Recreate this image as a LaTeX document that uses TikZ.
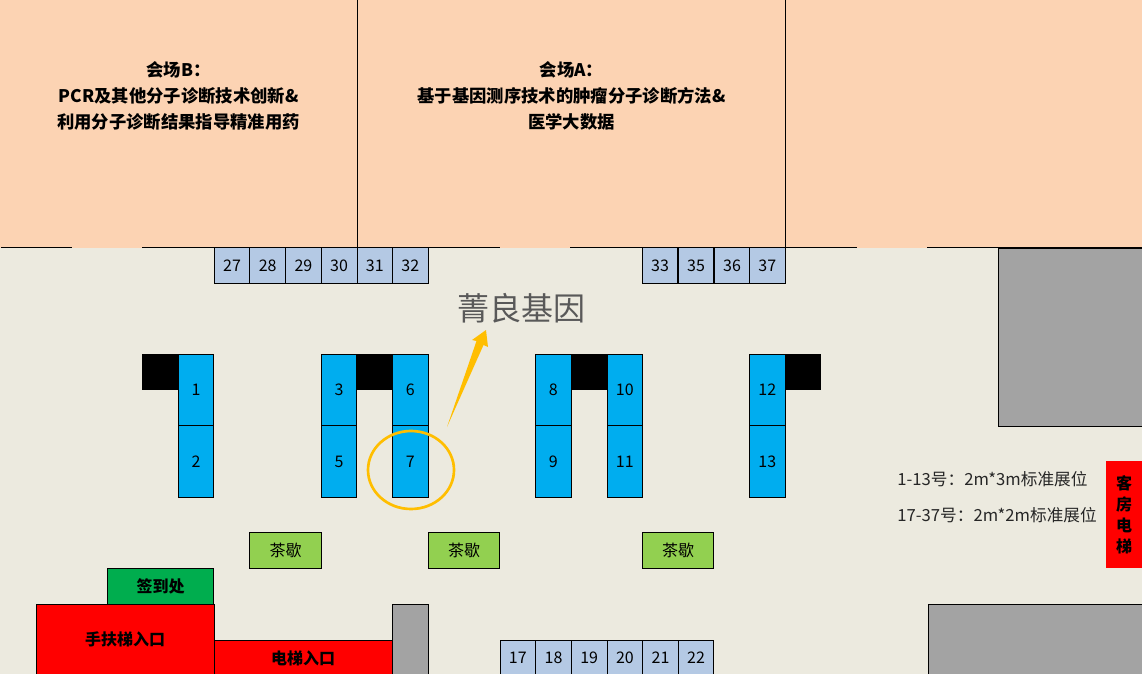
\documentclass[tikz,border=0pt]{standalone}
\usepackage{fontspec}
\setmainfont{Noto Sans CJK SC}
\usepackage{xcolor}
\usetikzlibrary{arrows.meta,positioning,calc}
\definecolor{floorbg}{HTML}{ECEADF}
\definecolor{roompeach}{HTML}{FCD3B3}
\definecolor{smallblue}{HTML}{B4C9E4}
\definecolor{bigblue}{HTML}{00ADEF}
\definecolor{teagreen}{HTML}{92D050}
\definecolor{signgreen}{HTML}{00AD4E}
\definecolor{wallgray}{HTML}{A3A3A3}
\definecolor{ringorange}{HTML}{FFBE00}
\tikzset{
  smallbooth/.style={draw=black, fill=smallblue, minimum width=26.8pt, minimum height=26.6pt, inner sep=0pt, font=\fontsize{12}{14}\selectfont},
  bigbooth/.style={draw=black, fill=bigblue, minimum width=26.8pt, minimum height=53.6pt, inner sep=0pt, font=\fontsize{12}{14}\selectfont},
  pillar/.style={fill=black, minimum width=27pt, minimum height=27pt, inner sep=0pt},
  teabox/.style={draw=black, fill=teagreen, minimum width=53.4pt, minimum height=26.6pt, inner sep=0pt, font=\fontsize{12}{14}\selectfont},
  wall/.style={draw=black, fill=wallgray, inner sep=0pt},
  entry/.style={draw=black, fill=red, inner sep=0pt, font=\fontsize{12}{14}\selectfont\bfseries},
  roomlabel/.style={align=center, font=\fontsize{13}{19.5}\selectfont\bfseries},
  notelabel/.style={inner sep=0pt, font=\fontsize{12.5}{14}\selectfont, text=black!85}
}
\begin{document}
\begin{tikzpicture}[x=0.75pt, y=-0.75pt, line width=0.65pt]
  \useasboundingbox (0,0) rectangle (1142,674);
  \clip (0,0) rectangle (1142,674);
  \fill[floorbg] (0,0) rectangle (1142,674);
  % Rooms
  \fill[roompeach] (0,0) rectangle (1142,247.5);
  \draw (357,0) -- (357,247.5);
  \draw (785,0) -- (785,247.5);
  \draw (1,247.5) -- (72,247.5);
  \draw (142,247.5) -- (500,247.5);
  \draw (570,247.5) -- (857,247.5);
  \draw (927,247.5) -- (1142,247.5);
  \node[roomlabel] (roomB) at (178.5,95.5) {会场B：\\PCR及其他分子诊断技术创新\&\\利用分子诊断结果指导精准用药};
  \node[roomlabel] (roomA) at (571.5,95.5) {会场A：\\基于基因测序技术的肿瘤分子诊断方法\&\\医学大数据};
  % Top row booths
  \node[smallbooth] (b27) at (232,265.5) {27};
  \node[smallbooth] (b28) at (267.7,265.5) {28};
  \node[smallbooth] (b29) at (303.4,265.5) {29};
  \node[smallbooth] (b30) at (339.1,265.5) {30};
  \node[smallbooth] (b31) at (374.8,265.5) {31};
  \node[smallbooth] (b32) at (410.3,265.5) {32};
  \node[smallbooth] (b33) at (660,265.5) {33};
  \node[smallbooth] (b35) at (696,265.5) {35};
  \node[smallbooth] (b36) at (732,265.5) {36};
  \node[smallbooth] (b37) at (767.3,265.5) {37};
  % Bottom row booths
  \node[smallbooth] (b17) at (517.8,658) {17};
  \node[smallbooth] (b18) at (553.5,658) {18};
  \node[smallbooth] (b19) at (589.2,658) {19};
  \node[smallbooth] (b20) at (624.9,658) {20};
  \node[smallbooth] (b21) at (660.6,658) {21};
  \node[smallbooth] (b22) at (696,658) {22};
  % Pillars
  \node[pillar] (p1) at (160,372) {};
  \node[pillar] (p2) at (375,372) {};
  \node[pillar] (p3) at (589,372) {};
  \node[pillar] (p4) at (803,372) {};
  % Standard booths
  \node[bigbooth] (b1) at (196,390) {1};
  \node[bigbooth] (b2) at (196,461.5) {2};
  \node[bigbooth] (b3) at (339,390) {3};
  \node[bigbooth] (b5) at (339,461.5) {5};
  \node[bigbooth] (b6) at (410.3,390) {6};
  \node[bigbooth] (b7) at (410.3,461.5) {7};
  \node[bigbooth] (b8) at (553.3,390) {8};
  \node[bigbooth] (b9) at (553.3,461.5) {9};
  \node[bigbooth] (b10) at (624.8,390) {10};
  \node[bigbooth] (b11) at (624.8,461.5) {11};
  \node[bigbooth] (b12) at (767.3,390) {12};
  \node[bigbooth] (b13) at (767.3,461.5) {13};
  % Highlight
  \draw[ringorange, line width=2pt] (411,470) ellipse [x radius=43, y radius=39];
  \coordinate (tail) at (447,427);
  \coordinate (tip) at (486,330);
  \fill[ringorange] (tail) -- (476.5,341) -- (472,340) -- (tip) -- (488,347) -- (483.5,345) -- cycle;
  \node[font=\fontsize{24}{28}\selectfont, text=black!65] (brand) at (521.5,308.5) {菁良基因};
  % Tea breaks
  \node[teabox] (tea1) at (285.5,550.5) {茶歇};
  \node[teabox] (tea2) at (464,550.5) {茶歇};
  \node[teabox] (tea3) at (678,550.5) {茶歇};
  % Entrances
  \node[draw=black, fill=signgreen, minimum width=80pt, minimum height=27pt, inner sep=0pt, font=\fontsize{12}{14}\selectfont\bfseries] (sign) at (160.5,586) {签到处};
  \node[entry, minimum width=133.5pt, minimum height=52.5pt] (escalator) at (125,639) {手扶梯入口};
  \node[entry, minimum width=133.5pt, minimum height=27pt] (lift) at (303,658) {电梯入口};
  \node[fill=red, minimum width=27pt, minimum height=80pt, inner sep=0pt, align=center, font=\fontsize{12}{15.8}\selectfont\bfseries] (guestlift) at (1124,514.5) {客\\房\\电\\梯};
  % Walls
  \node[wall, minimum width=27pt, minimum height=53pt] (wall1) at (410,639.5) {};
  \node[wall, minimum width=160.5pt, minimum height=53pt] (wall2) at (1035,639.5) {};
  \node[wall, minimum width=107.5pt, minimum height=133.5pt] (wall3) at (1070.5,337) {};
  % Notes
  \node[notelabel, anchor=west] (note1) at (897,479.5) {1-13号：2m*3m标准展位};
  \node[notelabel, anchor=west] (note2) at (897,515.5) {17-37号：2m*2m标准展位};
\end{tikzpicture}
\end{document}
